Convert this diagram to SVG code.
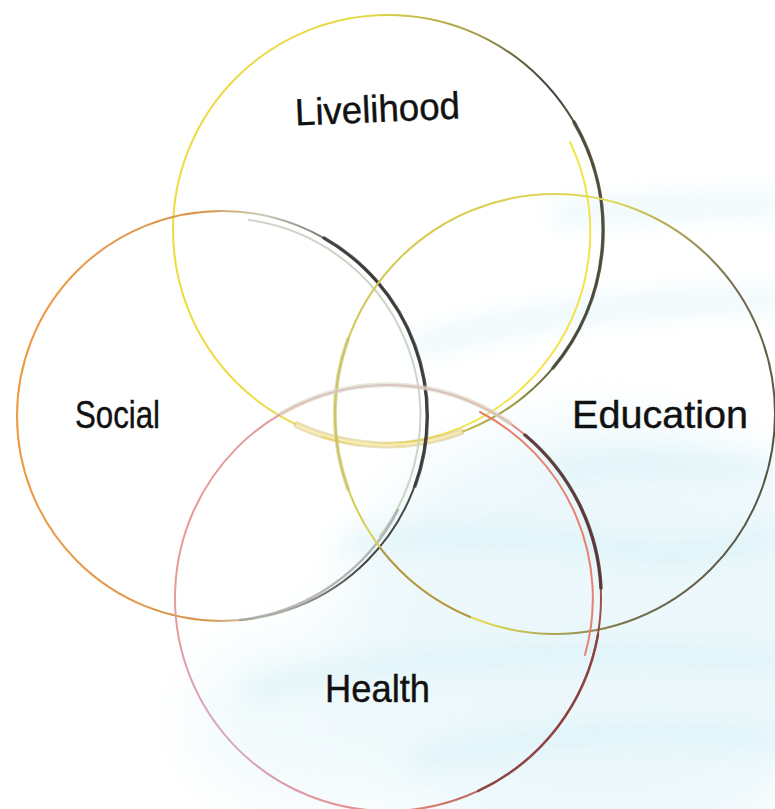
<svg xmlns="http://www.w3.org/2000/svg" width="775" height="809" viewBox="0 0 775 809">
<defs>
  <filter id="blur" x="-20%" y="-80%" width="140%" height="260%"><feGaussianBlur stdDeviation="13"/></filter>
  <filter id="blurBig" x="-30%" y="-30%" width="160%" height="160%"><feGaussianBlur stdDeviation="30"/></filter>
  <linearGradient id="gLive" x1="0" y1="0.5" x2="1" y2="0.4">
    <stop offset="0" stop-color="#eedc3c"/>
    <stop offset="0.5" stop-color="#e6d84a"/>
    <stop offset="0.75" stop-color="#a09848"/>
    <stop offset="0.9" stop-color="#404038"/>
    <stop offset="1" stop-color="#6a6230"/>
  </linearGradient>
  <linearGradient id="gSoc" x1="0" y1="0.5" x2="1" y2="0.5">
    <stop offset="0" stop-color="#f09a40"/>
    <stop offset="0.45" stop-color="#d89650"/>
    <stop offset="0.6" stop-color="#c8ccb8"/>
    <stop offset="0.85" stop-color="#404040"/>
    <stop offset="1" stop-color="#505048"/>
  </linearGradient>
  <linearGradient id="gEdu" x1="0" y1="0.3" x2="1" y2="0.6">
    <stop offset="0" stop-color="#d0c850"/>
    <stop offset="0.5" stop-color="#e2da5a"/>
    <stop offset="0.8" stop-color="#787050"/>
    <stop offset="1" stop-color="#555545"/>
  </linearGradient>
  <linearGradient id="gHea" x1="0" y1="0.3" x2="1" y2="0.7">
    <stop offset="0" stop-color="#e8988a"/>
    <stop offset="0.3" stop-color="#d8a8c8"/>
    <stop offset="0.7" stop-color="#e88a78"/>
    <stop offset="1" stop-color="#8a4040"/>
  </linearGradient>
  <style>
    .ring { fill: none; stroke-width: 2; }
    .band { fill: none; stroke-linecap: round; }
    .label { font-family: "Liberation Sans", Arial, sans-serif; font-size: 38px; fill: #111; text-anchor: middle; stroke: #111; stroke-width: 0.4; }
  </style>
</defs>
<rect width="775" height="809" fill="#ffffff"/>
<g id="background">
  <ellipse cx="600" cy="640" rx="260" ry="220" fill="#e8f7fb" opacity="0.8" filter="url(#blurBig)"/>
  <ellipse cx="330" cy="720" rx="140" ry="90" fill="#eef9fc" opacity="0.8" filter="url(#blurBig)"/>
  <g fill="none" stroke="#bfe8f4" stroke-width="14" filter="url(#blur)" stroke-linecap="round" opacity="0.5">
    <path d="M420,345 Q580,300 775,300"/>
    <path d="M560,215 Q660,205 775,205"/>
    <path d="M350,545 Q480,525 620,550 Q700,560 775,535"/>
    <path d="M560,470 Q660,455 775,470"/>
    <path d="M250,690 Q450,640 775,660"/>
    <path d="M420,760 Q600,720 775,740"/>
  </g>
</g>
<g id="node-livelihood">
  <circle class="ring" cx="388" cy="230" r="215" stroke="url(#gLive)"/>
  <path class="band" d="M574,122 A215,215 0 0 1 553,368" stroke="#4a4838" stroke-width="3.5" opacity="0.85"/>
  <path class="band" d="M570,142 A212,212 0 0 1 323,437" stroke="#f3e44a" stroke-width="2"/>
  <path class="band" d="M461,432 A215,215 0 0 1 297,425" stroke="#d8c27a" stroke-width="7" opacity="0.55"/>
  <path class="band" d="M461,432 A215,215 0 0 1 297,425" stroke="#fff6c8" stroke-width="2" opacity="0.8"/>
  <text class="label" x="378" y="122" textLength="165" lengthAdjust="spacingAndGlyphs" transform="rotate(-2.5 378 122)">Livelihood</text>
</g>
<g id="node-social">
  <circle class="ring" cx="222" cy="416" r="205" stroke="url(#gSoc)"/>
  <path class="band" d="M324,238 A205,205 0 0 1 415,486" stroke="#383838" stroke-width="3.5" opacity="0.85"/>
  <path class="band" d="M249,220 A198,198 0 0 1 380,536" stroke="#c8d0c0" stroke-width="2" opacity="0.9"/>
  <path class="band" d="M398,510 A205,205 0 0 1 240,620" stroke="#9a9a98" stroke-width="2.5" opacity="0.7"/>
  <text class="label" x="117.5" y="428" textLength="85" lengthAdjust="spacingAndGlyphs">Social</text>
</g>
<g id="node-education">
  <circle class="ring" cx="555" cy="414" r="220" stroke="url(#gEdu)"/>
  <path class="band" d="M348,489 A220,220 0 0 1 348,339" stroke="#c8c070" stroke-width="4" opacity="0.55"/>
  <path class="band" d="M380,548 A220,220 0 0 0 470,617" stroke="#a07840" stroke-width="2" opacity="0.7"/>
  <text class="label" x="660" y="428" textLength="176" lengthAdjust="spacingAndGlyphs">Education</text>
</g>
<g id="node-health">
  <circle class="ring" cx="388" cy="598" r="213" stroke="url(#gHea)"/>
  <path class="band" d="M282,413 A213,213 0 0 1 510,423" stroke="#d8d8c4" stroke-width="5" opacity="0.6"/>
  <path class="band" d="M525,435 A213,213 0 0 1 601,588" stroke="#4a3030" stroke-width="3.5" opacity="0.85"/>
  <path class="band" d="M598,635 A213,213 0 0 1 478,791" stroke="#8a4040" stroke-width="2.5" opacity="0.85"/>
  <path class="band" d="M480,412 A210,210 0 0 1 585,655" stroke="#e88070" stroke-width="2"/>
  <text class="label" x="377.5" y="702" textLength="105" lengthAdjust="spacingAndGlyphs">Health</text>
</g>
<g id="connectors"/>
</svg>
